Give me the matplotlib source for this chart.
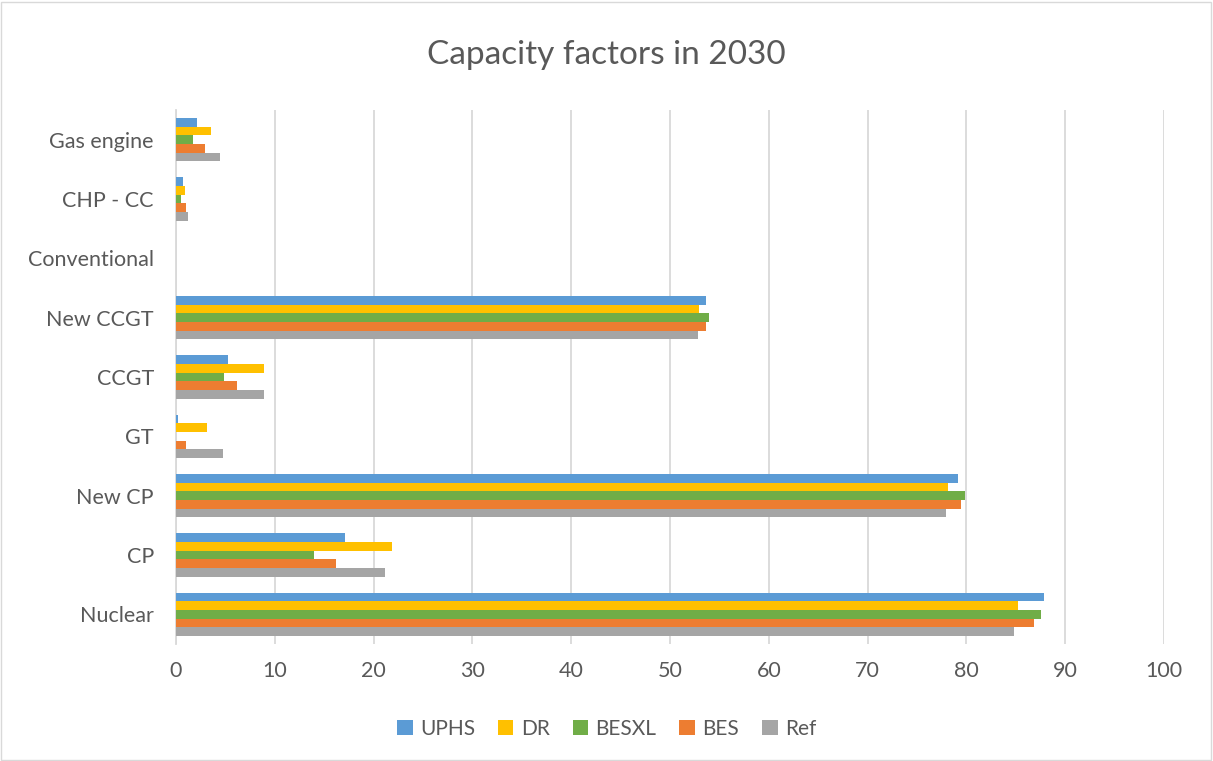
import numpy as np
import matplotlib.pyplot as plt
from matplotlib.patches import Rectangle

plt.rcParams['font.family'] = ['Lato', 'DejaVu Sans']

# categories, bottom to top as drawn
categories = ['Nuclear', 'CP', 'New CP', 'GT', 'CCGT', 'New CCGT',
              'Conventional', 'CHP - CC', 'Gas engine']
series = ['UPHS', 'DR', 'BESXL', 'BES', 'Ref']
colors = ['#5b9bd5', '#ffc000', '#70ad47', '#ed7d31', '#a5a5a5']

uphs = [87.9, 17.1, 79.1, 0.17, 5.3, 53.6, 0, 0.67, 2.1]
dr = [85.2, 21.9, 78.1, 3.1, 8.9, 52.9, 0, 0.9, 3.5]
besxl = [87.5, 14.0, 79.85, 0, 4.9, 53.9, 0, 0.5, 1.75]
bes = [86.8, 16.2, 79.45, 1.05, 6.2, 53.6, 0, 1.05, 2.9]
ref = [84.8, 21.15, 77.9, 4.8, 8.9, 52.8, 0, 1.25, 4.45]
values = [uphs, dr, besxl, bes, ref]

fig = plt.figure(figsize=(12.13, 7.61), dpi=100)
ax = fig.add_axes([176/1213, 1-644/761, (1164-176)/1213, (644-110)/761])

y = np.arange(len(categories))
h = 0.146
for i, (name, vals) in enumerate(zip(series, values)):
    off = (2 - i) * h
    ax.barh(y + off, vals, height=h, color=colors[i], label=name, zorder=3)

ax.set_xlim(0, 100)
ax.set_ylim(-0.5, len(categories) - 0.5)
ax.set_xticks(range(0, 101, 10))
ax.set_yticks(y)
ax.set_yticklabels(categories)
ax.grid(axis='x', color='#d9d9d9', linewidth=1.3, zorder=0)
for s in ['top', 'right', 'bottom']:
    ax.spines[s].set_visible(False)
ax.spines['left'].set_color('#d9d9d9')
ax.spines['left'].set_linewidth(1.3)
ax.tick_params(length=0, labelsize=15.5, colors='#595959', pad=12)
ax.tick_params(axis='y', pad=16)

fig.text(0.5, 1-55/761, 'Capacity factors in 2030', ha='center', va='center',
         fontsize=24, color='#595959')

leg = fig.legend(loc='center', bbox_to_anchor=(0.5, 1-729/761), ncol=5,
                 frameon=False, fontsize=15, handlelength=0.75, handleheight=0.75,
                 columnspacing=1.1, handletextpad=0.35)
for t in leg.get_texts():
    t.set_color('#595959')

fig.patches.append(Rectangle((0.001, 0.001), 0.997, 0.997, transform=fig.transFigure,
                             fill=False, edgecolor='#d9d9d9', linewidth=1))

fig.savefig('out.png', dpi=100)
